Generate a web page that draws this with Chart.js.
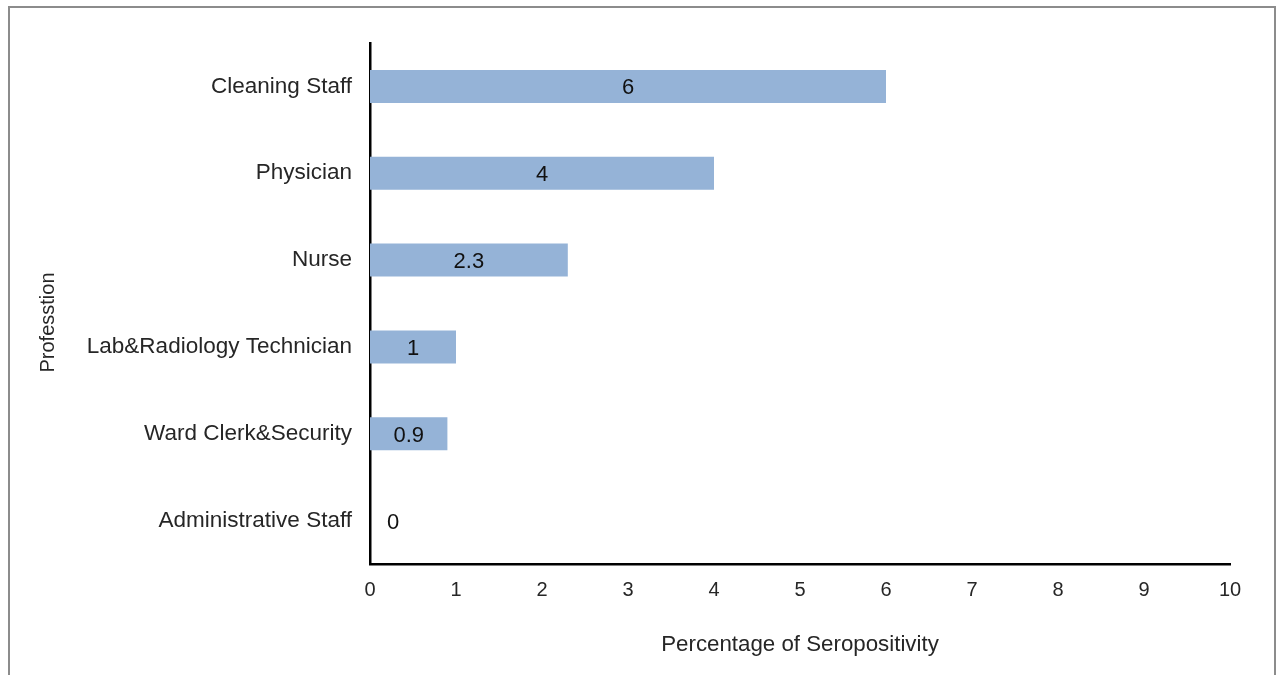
<!DOCTYPE html>
<html>
<head>
<meta charset="utf-8">
<script src="https://cdn.jsdelivr.net/npm/chart.js@4/dist/chart.umd.min.js"></script>
<style>
    html, body { margin: 0; padding: 0; background: #fff; overflow: hidden; }
    #wrap { position: relative; width: 1285px; height: 675px; }
    #frame { position: absolute; left: 8px; top: 6px; width: 1268px; height: 690px; border: 2px solid #8c8c8c; box-sizing: border-box; }
    canvas { position: absolute; left: 0; top: 0; }
</style>
</head>
<body>
<div id="wrap">
    <div id="frame"></div>
    <canvas id="seroChart" width="1285" height="675"></canvas>
</div>
<script>
const professions = ['Cleaning Staff', 'Physician', 'Nurse', 'Lab&Radiology Technician', 'Ward Clerk&Security', 'Administrative Staff'];
const seropositivity = [6, 4, 2.3, 1, 0.9, 0];
const xTicks = [0, 1, 2, 3, 4, 5, 6, 7, 8, 9, 10];
const yTitle = 'Professtion';

const textColor = '#262626';
const fontFamily = '"Liberation Sans", Arial, sans-serif';

// value labels centred in each bar (Excel style)
const barLabels = {
    id: 'barLabels',
    afterDatasetsDraw(chart) {
        const ctx = chart.ctx;
        const meta = chart.getDatasetMeta(0);
        ctx.save();
        ctx.font = '22px ' + fontFamily;
        ctx.fillStyle = '#111';
        ctx.textAlign = 'center';
        ctx.textBaseline = 'middle';
        meta.data.forEach((bar, i) => {
            let x = (bar.x + bar.base) / 2;
            if (x < bar.base + 23) x = bar.base + 23;
            ctx.fillText(String(seropositivity[i]), x, bar.y + 2);
        });
        ctx.restore();
    }
};

// y axis title sits a bit lower than the plot centre in the original
const yAxisTitle = {
    id: 'yAxisTitle',
    afterDraw(chart) {
        const ctx = chart.ctx;
        const area = chart.chartArea;
        ctx.save();
        ctx.translate(48, (area.top + area.bottom) / 2 + 19);
        ctx.rotate(-Math.PI / 2);
        ctx.font = '20px ' + fontFamily;
        ctx.fillStyle = textColor;
        ctx.textAlign = 'center';
        ctx.textBaseline = 'middle';
        ctx.fillText(yTitle, 0, 0);
        ctx.restore();
    }
};

const ctx = document.getElementById('seroChart').getContext('2d');
new Chart(ctx, {
    type: 'bar',
    data: {
        labels: professions,
        datasets: [{
            label: 'Percentage of Seropositivity',
            data: seropositivity,
            backgroundColor: '#95b3d7',
            categoryPercentage: 1,
            barPercentage: 0.38
        }]
    },
    options: {
        indexAxis: 'y',
        responsive: false,
        animation: false,
        layout: { padding: { left: 37, right: 55, top: 43, bottom: 0 } },
        plugins: {
            legend: { display: false },
            tooltip: { enabled: false }
        },
        scales: {
            x: {
                min: 0,
                max: 10,
                afterBuildTicks: (scale) => { scale.ticks = xTicks.map(v => ({ value: v })); },
                afterFit: (scale) => { scale.height = 111; },
                grid: { display: false, drawTicks: false },
                border: { display: true, color: '#000', width: 2.5 },
                ticks: { color: textColor, padding: 14, font: { size: 20, family: fontFamily } },
                title: {
                    display: true,
                    text: 'Percentage of Seropositivity',
                    color: textColor,
                    font: { size: 22.3, family: fontFamily },
                    padding: { top: 0, bottom: 17 }
                }
            },
            y: {
                afterFit: (scale) => { scale.width = 370 - 37; },
                grid: { display: false, drawTicks: false },
                border: { display: true, color: '#000', width: 2.5 },
                ticks: { color: textColor, padding: 18, font: { size: 22.5, family: fontFamily } },
                title: { display: false }
            }
        }
    },
    plugins: [barLabels, yAxisTitle]
});
</script>
</body>
</html>
